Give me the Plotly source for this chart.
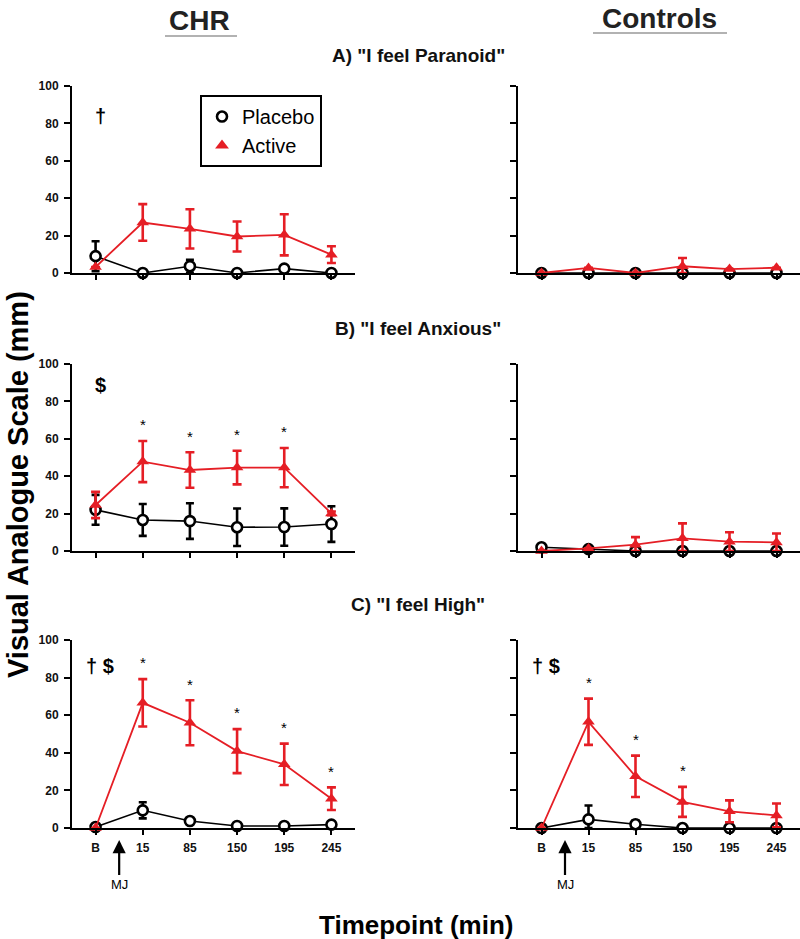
import plotly.graph_objects as go

# x categories (timepoints, min)
timepoints = ["B", "15", "85", "150", "195", "245"]

# panel order: A-CHR, A-Controls, B-CHR, B-Controls, C-CHR, C-Controls
placebo_mean = [
    [9, 0, 3.6, 0, 2.3, 0],
    [0, 0, 0, 0, 0, 0],
    [22, 16.6, 16, 12.7, 12.8, 14.4],
    [2, 1, 0, 0, 0, 0],
    [0.5, 9.4, 3.7, 1.1, 1.1, 1.8],
    [0, 4.6, 2, 0, 0, 0],
]
placebo_err = [
    [8, 0, 3.5, 0, 0, 0],
    [0, 0, 0, 0, 0, 0],
    [8, 8.5, 9.5, 10, 10, 9.5],
    [1.5, 0, 0, 0, 0, 0],
    [0, 4.3, 0, 0, 0, 0],
    [0, 7.4, 2, 0, 0, 0],
]
active_mean = [
    [3.2, 27, 23.6, 19.5, 20.4, 9.8],
    [0, 2.7, 0, 3.6, 2.1, 2.8],
    [24.6, 47.8, 43.3, 44.6, 44.6, 20.1],
    [0, 1.4, 3.4, 6.8, 5, 4.6],
    [0, 66.6, 56, 40.9, 33.9, 15.6],
    [0, 56.5, 27.5, 13.9, 8.9, 6.7],
]
active_err = [
    [0, 9.8, 10.5, 8, 11, 4.5],
    [0, 0, 0, 4.4, 0, 0],
    [7, 11, 9.5, 9, 10.5, 1],
    [0, 0, 4, 8, 5, 4.8],
    [0, 12.6, 12, 11.7, 11, 6],
    [0, 12.3, 11, 8, 5.8, 6.3],
]
# timepoint indices marked with * (active vs placebo)
star_idx = [[], [], [1, 2, 3, 4], [], [1, 2, 3, 4, 5], [1, 2, 3]]
# main-effect symbols per panel
sig_text = ["†", "", "$", "", "† $", "† $"]
sig_y = [84, 0, 89, 0, 86, 86]

group_titles = ["CHR", "Controls"]
panel_titles = ['A) "I feel Paranoid"', 'B) "I feel Anxious"', 'C) "I feel High"']

RED = "#e51e25"
FONT = "Liberation Sans, Arial"

x_domains = [[0.09, 0.44375], [0.6475, 1.0]]
y_domains = [[0.7093, 0.9084], [0.4132, 0.6124], [0.1182, 0.3184]]

fig = go.Figure()
layout = dict(
    width=800,
    height=939,
    margin=dict(l=0, r=0, t=0, b=0, autoexpand=False),
    plot_bgcolor="white",
    paper_bgcolor="white",
    showlegend=True,
)
annotations = []
x_idx = list(range(len(timepoints)))


def paper_text(text, xp, yp, size, color="black", bold=True, angle=0):
    # place text centred on a pixel position of the page
    return dict(
        x=xp / 800, y=1 - yp / 939, xref="paper", yref="paper",
        text=text, showarrow=False, textangle=angle,
        xanchor="center", yanchor="middle",
        font=dict(family=FONT, size=size, color=color,
                  weight="bold" if bold else "normal"),
    )


for k in range(6):
    r, c = divmod(k, 2)
    n = k + 1
    xs = "" if n == 1 else str(n)

    pm, pe = placebo_mean[k], placebo_err[k]
    am, ae = active_mean[k], active_err[k]

    fig.add_trace(go.Scatter(
        x=x_idx, y=pm, xaxis="x" + xs, yaxis="y" + xs,
        mode="lines+markers", showlegend=False, cliponaxis=False,
        line=dict(color="black", width=1.6),
        marker=dict(symbol="circle", size=10, color="white",
                    line=dict(color="black", width=2.6)),
        error_y=dict(type="data", array=pe,
                     arrayminus=[min(e, m) for e, m in zip(pe, pm)],
                     color="black", thickness=2.6, width=4),
    ))
    fig.add_trace(go.Scatter(
        x=x_idx, y=am, xaxis="x" + xs, yaxis="y" + xs,
        mode="lines+markers", showlegend=False, cliponaxis=False,
        line=dict(color=RED, width=1.8),
        marker=dict(symbol="triangle-up", size=11, color=RED),
        error_y=dict(type="data", array=ae,
                     arrayminus=[min(e, m) for e, m in zip(ae, am)],
                     color=RED, thickness=2.6, width=4.5),
    ))

    layout["xaxis" + xs] = dict(
        domain=x_domains[c], anchor="y" + xs, range=[-0.5, 5.5],
        tickvals=x_idx, ticktext=timepoints, showticklabels=(r == 2),
        ticks="outside", ticklen=5, tickwidth=2, tickcolor="black",
        showline=True, linewidth=2, linecolor="black", automargin=False,
        showgrid=False, zeroline=False, ticklabelstandoff=3,
        tickfont=dict(family=FONT, size=12, color="#111", weight="bold"),
    )
    layout["yaxis" + xs] = dict(
        domain=y_domains[r], anchor="x" + xs, range=[0, 100],
        tickvals=[0, 20, 40, 60, 80, 100], showticklabels=(c == 0),
        ticks="outside", ticklen=6, tickwidth=2, tickcolor="black",
        showline=True, linewidth=2, linecolor="black", automargin=False,
        showgrid=False, zeroline=False, ticklabelstandoff=3,
        tickfont=dict(family=FONT, size=12, color="#111", weight="bold"),
    )

    for i in star_idx[k]:
        annotations.append(dict(
            x=i, y=am[i] + ae[i] + 3, xref="x" + xs, yref="y" + xs,
            text="*", showarrow=False, xanchor="center", yanchor="bottom",
            font=dict(family=FONT, size=15, color="black"),
        ))
    if sig_text[k]:
        annotations.append(dict(
            x=0.1, y=sig_y[k], xref="x" + xs, yref="y" + xs,
            text=sig_text[k], showarrow=False, xanchor="center", yanchor="middle",
            font=dict(family=FONT, size=20, color="black", weight="bold"),
        ))

# legend-only entries (markers only)
fig.add_trace(go.Scatter(
    x=[None], y=[None], mode="markers", name="Placebo",
    marker=dict(symbol="circle", size=10, color="white",
                line=dict(color="black", width=2.6)),
))
fig.add_trace(go.Scatter(
    x=[None], y=[None], mode="markers", name="Active",
    marker=dict(symbol="triangle-up", size=12, color=RED),
))
layout["legend"] = dict(
    x=0.25, y=0.8988, xanchor="left", yanchor="top",
    bordercolor="black", borderwidth=2, bgcolor="white",
    font=dict(family=FONT, size=20, color="black"),
    tracegroupgap=0, entrywidth=112,
)

# group headers with underline
annotations.append(paper_text(group_titles[0], 199, 21, 28, color="#222"))
annotations.append(paper_text(group_titles[1], 659, 18, 28, color="#222"))
shapes = [
    dict(type="line", xref="paper", yref="paper", x0=165 / 800, x1=237 / 800,
         y0=1 - 36 / 939, y1=1 - 36 / 939, line=dict(color="#999", width=1.5)),
    dict(type="line", xref="paper", yref="paper", x0=593 / 800, x1=727 / 800,
         y0=1 - 33 / 939, y1=1 - 33 / 939, line=dict(color="#999", width=1.5)),
]

# panel titles
for t, yc in zip(panel_titles, [56, 328, 604]):
    annotations.append(paper_text(t, 418, yc, 19, color="#111"))

# MJ arrows
for xs in ["x5", "x6"]:
    annotations.append(dict(
        x=0.5, y=1 - 840 / 939, xref=xs, yref="paper",
        text="MJ", showarrow=True, ax=0, ay=44,
        arrowhead=2, arrowsize=1.2, arrowwidth=2.2, arrowcolor="black",
        font=dict(family=FONT, size=13, color="black"),
    ))

# axis titles
annotations.append(paper_text("Visual Analogue Scale (mm)", 18, 485, 29, angle=-90))
annotations.append(paper_text("Timepoint (min)", 416, 925, 26))

layout["annotations"] = annotations
layout["shapes"] = shapes
fig.update_layout(**layout)

# drop the browser's default page margin so the figure sits at 0,0
fig.write_html(
    "out.html",
    post_script="document.body.style.margin='0';",
    config={"displayModeBar": False},
)
